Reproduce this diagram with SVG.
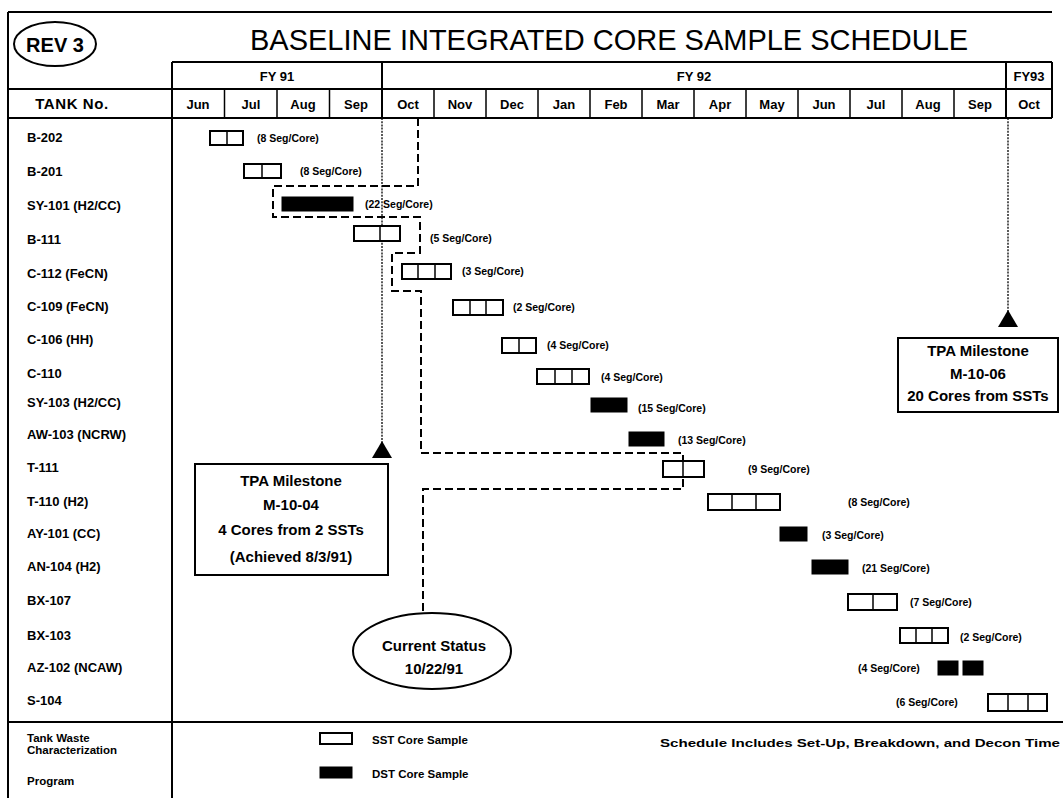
<svg xmlns="http://www.w3.org/2000/svg" width="1063" height="798" viewBox="0 0 1063 798">
  <style>
    .line { stroke: #000; stroke-width: 2; fill: none; }
    .thin { stroke: #000; stroke-width: 1.5; fill: none; }
    .sst { fill: #fff; stroke: #000; stroke-width: 2; }
    .cell { stroke: #000; stroke-width: 1.5; }
    .dst { fill: #000; stroke: #000; stroke-width: 1; }
    .status { stroke: #000; stroke-width: 2; fill: none; stroke-dasharray: 8 4; }
    .fy { stroke: #000; stroke-width: 1.3; fill: none; stroke-dasharray: 2 1.2; }
    text { font-family: "Liberation Sans", Arial, sans-serif; fill: #000; }
    .title { font-size: 29px; }
    .hdr { font-size: 13px; font-weight: bold; text-anchor: middle; }
    .tank { font-size: 13px; font-weight: bold; }
    .seg { font-size: 10.5px; font-weight: bold; }
    .note { font-size: 15px; font-weight: bold; text-anchor: middle; }
    .legend { font-size: 11.5px; font-weight: bold; }
  </style>

  <!-- page frame and header grid -->
  <g id="frame">
    <line class="line" x1="8" y1="12" x2="1052" y2="12"/>
    <line class="line" x1="8" y1="12" x2="8" y2="798"/>
    <line class="line" x1="172" y1="62" x2="1052" y2="62"/>
    <line class="line" x1="8" y1="89" x2="1052" y2="89"/>
    <line class="line" x1="8" y1="118" x2="1052" y2="118"/>
    <line class="line" x1="172" y1="62" x2="172" y2="798"/>
    <line class="line" x1="1052" y1="62" x2="1052" y2="118"/>
    <line class="line" x1="382" y1="62" x2="382" y2="118"/>
    <line class="line" x1="1006" y1="62" x2="1006" y2="118"/>
    <line class="line" x1="8" y1="722" x2="1063" y2="722"/>
    <!-- month dividers -->
    <g class="thin">
      <line x1="224.5" y1="89" x2="224.5" y2="118"/>
      <line x1="277" y1="89" x2="277" y2="118"/>
      <line x1="329.5" y1="89" x2="329.5" y2="118"/>
      <line x1="434" y1="89" x2="434" y2="118"/>
      <line x1="486" y1="89" x2="486" y2="118"/>
      <line x1="538" y1="89" x2="538" y2="118"/>
      <line x1="590" y1="89" x2="590" y2="118"/>
      <line x1="642" y1="89" x2="642" y2="118"/>
      <line x1="694" y1="89" x2="694" y2="118"/>
      <line x1="746" y1="89" x2="746" y2="118"/>
      <line x1="798" y1="89" x2="798" y2="118"/>
      <line x1="850" y1="89" x2="850" y2="118"/>
      <line x1="902" y1="89" x2="902" y2="118"/>
      <line x1="954" y1="89" x2="954" y2="118"/>
    </g>
  </g>

  <g id="rev">
    <ellipse cx="55" cy="44" rx="41" ry="22" class="line"/>
    <text x="55" y="52" font-size="20" font-weight="bold" text-anchor="middle">REV 3</text>
  </g>

  <text class="title" x="250" y="50">BASELINE INTEGRATED CORE SAMPLE SCHEDULE</text>

  <g id="header-labels">
    <text class="hdr" x="277" y="81">FY 91</text>
    <text class="hdr" x="694" y="81">FY 92</text>
    <text class="hdr" x="1029" y="81">FY93</text>
    <text x="72" y="109" font-size="15" font-weight="bold" text-anchor="middle" letter-spacing="0.6">TANK No.</text>
    <text class="hdr" x="198" y="109">Jun</text>
    <text class="hdr" x="251" y="109">Jul</text>
    <text class="hdr" x="303" y="109">Aug</text>
    <text class="hdr" x="356" y="109">Sep</text>
    <text class="hdr" x="408" y="109">Oct</text>
    <text class="hdr" x="460" y="109">Nov</text>
    <text class="hdr" x="512" y="109">Dec</text>
    <text class="hdr" x="564" y="109">Jan</text>
    <text class="hdr" x="616" y="109">Feb</text>
    <text class="hdr" x="668" y="109">Mar</text>
    <text class="hdr" x="720" y="109">Apr</text>
    <text class="hdr" x="772" y="109">May</text>
    <text class="hdr" x="824" y="109">Jun</text>
    <text class="hdr" x="876" y="109">Jul</text>
    <text class="hdr" x="928" y="109">Aug</text>
    <text class="hdr" x="980" y="109">Sep</text>
    <text class="hdr" x="1029" y="109">Oct</text>
  </g>

  <g id="tank-labels">
    <text class="tank" x="27" y="142">B-202</text>
    <text class="tank" x="27" y="176">B-201</text>
    <text class="tank" x="27" y="210">SY-101  (H2/CC)</text>
    <text class="tank" x="27" y="244">B-111</text>
    <text class="tank" x="27" y="278">C-112  (FeCN)</text>
    <text class="tank" x="27" y="311">C-109  (FeCN)</text>
    <text class="tank" x="27" y="344">C-106  (HH)</text>
    <text class="tank" x="27" y="378">C-110</text>
    <text class="tank" x="27" y="407">SY-103   (H2/CC)</text>
    <text class="tank" x="27" y="439">AW-103  (NCRW)</text>
    <text class="tank" x="27" y="472">T-111</text>
    <text class="tank" x="27" y="506">T-110  (H2)</text>
    <text class="tank" x="27" y="538">AY-101  (CC)</text>
    <text class="tank" x="27" y="571">AN-104  (H2)</text>
    <text class="tank" x="27" y="605">BX-107</text>
    <text class="tank" x="27" y="640">BX-103</text>
    <text class="tank" x="27" y="672">AZ-102  (NCAW)</text>
    <text class="tank" x="27" y="705">S-104</text>
  </g>

  <!-- milestone and status lines -->
  <g id="connectors">
    <line class="fy" x1="382" y1="118" x2="382" y2="443"/>
    <polygon points="382,441 372,458 392,458" fill="#000"/>
    <line class="fy" x1="1008" y1="118" x2="1008" y2="312"/>
    <polygon points="1008,310 998,327 1018,327" fill="#000"/>
    <polyline class="status" points="418,118 418,186 273,186 273,217 420,217 420,253 392,253 392,291 421,291 421,453 683,453 683,489 423,489 423,613"/>
  </g>

  <g id="bars">
    <g id="bar-b202"><rect class="sst" x="210" y="131" width="33" height="14"/><line class="cell" x1="227" y1="131" x2="227" y2="145"/><text class="seg" x="257" y="142">(8 Seg/Core)</text></g>
    <g id="bar-b201"><rect class="sst" x="244" y="164" width="37" height="14"/><line class="cell" x1="262" y1="164" x2="262" y2="178"/><text class="seg" x="300" y="175">(8 Seg/Core)</text></g>
    <g id="bar-sy101"><rect class="dst" x="282" y="197" width="71" height="14"/><text class="seg" x="365" y="208">(22 Seg/Core)</text></g>
    <g id="bar-b111"><rect class="sst" x="354" y="226" width="46" height="15"/><line class="cell" x1="380" y1="226" x2="380" y2="241"/><text class="seg" x="430" y="242">(5 Seg/Core)</text></g>
    <g id="bar-c112"><rect class="sst" x="402" y="264" width="49" height="15"/><line class="cell" x1="418" y1="264" x2="418" y2="279"/><line class="cell" x1="435" y1="264" x2="435" y2="279"/><text class="seg" x="462" y="275">(3 Seg/Core)</text></g>
    <g id="bar-c109"><rect class="sst" x="453" y="300" width="50" height="15"/><line class="cell" x1="470" y1="300" x2="470" y2="315"/><line class="cell" x1="486" y1="300" x2="486" y2="315"/><text class="seg" x="513" y="311">(2 Seg/Core)</text></g>
    <g id="bar-c106"><rect class="sst" x="502" y="338" width="34" height="15"/><line class="cell" x1="519" y1="338" x2="519" y2="353"/><text class="seg" x="547" y="349">(4 Seg/Core)</text></g>
    <g id="bar-c110"><rect class="sst" x="537" y="369" width="52" height="15"/><line class="cell" x1="555" y1="369" x2="555" y2="384"/><line class="cell" x1="572" y1="369" x2="572" y2="384"/><text class="seg" x="601" y="381">(4 Seg/Core)</text></g>
    <g id="bar-sy103"><rect class="dst" x="591" y="398" width="36" height="14"/><text class="seg" x="638" y="412">(15 Seg/Core)</text></g>
    <g id="bar-aw103"><rect class="dst" x="629" y="432" width="35" height="14"/><text class="seg" x="678" y="444">(13 Seg/Core)</text></g>
    <g id="bar-t111"><rect class="sst" x="663" y="461" width="41" height="16"/><line class="cell" x1="683" y1="461" x2="683" y2="477"/><text class="seg" x="748" y="473">(9 Seg/Core)</text></g>
    <g id="bar-t110"><rect class="sst" x="708" y="494" width="72" height="16"/><line class="cell" x1="732" y1="494" x2="732" y2="510"/><line class="cell" x1="756" y1="494" x2="756" y2="510"/><text class="seg" x="848" y="506">(8 Seg/Core)</text></g>
    <g id="bar-ay101"><rect class="dst" x="780" y="527" width="27" height="14"/><text class="seg" x="822" y="539">(3 Seg/Core)</text></g>
    <g id="bar-an104"><rect class="dst" x="812" y="560" width="36" height="14"/><text class="seg" x="862" y="572">(21 Seg/Core)</text></g>
    <g id="bar-bx107"><rect class="sst" x="848" y="594" width="49" height="16"/><line class="cell" x1="873" y1="594" x2="873" y2="610"/><text class="seg" x="910" y="606">(7 Seg/Core)</text></g>
    <g id="bar-bx103"><rect class="sst" x="900" y="628" width="48" height="15"/><line class="cell" x1="916" y1="628" x2="916" y2="643"/><line class="cell" x1="932" y1="628" x2="932" y2="643"/><text class="seg" x="960" y="641">(2 Seg/Core)</text></g>
    <g id="bar-az102"><rect class="dst" x="938" y="661" width="20" height="14"/><rect class="dst" x="963" y="661" width="20" height="14"/><text class="seg" x="858" y="672">(4 Seg/Core)</text></g>
    <g id="bar-s104"><rect class="sst" x="988" y="694" width="59" height="17"/><line class="cell" x1="1008" y1="694" x2="1008" y2="711"/><line class="cell" x1="1028" y1="694" x2="1028" y2="711"/><text class="seg" x="896" y="706">(6 Seg/Core)</text></g>
  </g>

  <g id="milestone-m1004">
    <rect class="line" x="195" y="464" width="193" height="111" fill="#fff"/>
    <text class="note" x="291" y="486">TPA Milestone</text>
    <text class="note" x="291" y="510">M-10-04</text>
    <text class="note" x="291" y="535">4 Cores from 2 SSTs</text>
    <text class="note" x="291" y="562">(Achieved 8/3/91)</text>
  </g>

  <g id="milestone-m1006">
    <rect class="line" x="898" y="338" width="160" height="74" fill="#fff"/>
    <text class="note" x="978" y="356">TPA Milestone</text>
    <text class="note" x="978" y="379">M-10-06</text>
    <text class="note" x="978" y="401">20 Cores from SSTs</text>
  </g>

  <g id="current-status">
    <ellipse class="line" cx="432" cy="651" rx="79" ry="38" fill="#fff"/>
    <text class="note" x="434" y="651">Current Status</text>
    <text class="note" x="434" y="674">10/22/91</text>
  </g>

  <g id="legend">
    <text class="legend" x="27" y="742">Tank Waste</text>
    <text class="legend" x="27" y="754">Characterization</text>
    <text class="legend" x="27" y="785">Program</text>
    <rect class="sst" x="320" y="733" width="32" height="11"/>
    <text class="legend" x="372" y="744">SST Core Sample</text>
    <rect class="dst" x="320" y="767" width="32" height="11"/>
    <text class="legend" x="372" y="778">DST Core Sample</text>
    <text class="legend" x="660" y="747" font-size="13.5" textLength="400" lengthAdjust="spacingAndGlyphs">Schedule Includes Set-Up, Breakdown, and Decon Time</text>
  </g>
</svg>
